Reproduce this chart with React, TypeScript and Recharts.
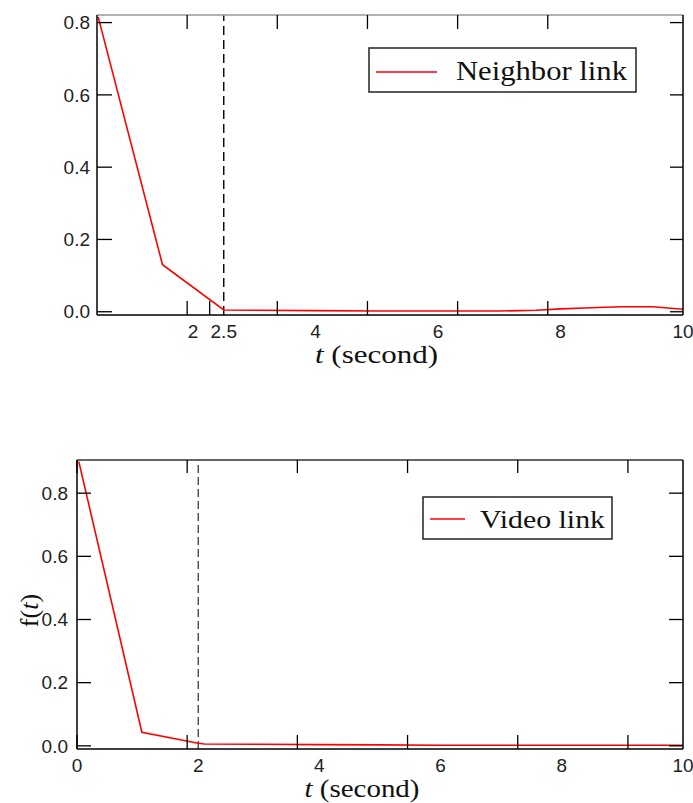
import React from 'react';
import { LineChart, Line, XAxis, YAxis, ReferenceLine, Legend } from 'recharts';

// ---------- data ----------
const neighborT = [0.45, 1.5, 2.5, 3, 4, 5, 6, 7, 7.6, 8, 8.5, 9, 9.5, 10];
const neighborF = [0.815, 0.13, 0.005, 0.004, 0.003, 0.002, 0.002, 0.002, 0.004, 0.008, 0.011, 0.014, 0.014, 0.007];
const videoT = [0.03, 1.07, 2, 2.1, 3, 4, 5, 6, 7, 8, 9, 10];
const videoF = [0.9, 0.043, 0.008, 0.006, 0.005, 0.004, 0.003, 0.002, 0.002, 0.002, 0.002, 0.002];

const topXTicks = [2, 2.5, 4, 6, 8, 10];
const bottomXTicks = [0, 2, 4, 6, 8, 10];
const yTicks = [0, 0.2, 0.4, 0.6, 0.8];

const topDashAt = 2.5;
const bottomDashAt = 2;

const topData = neighborT.map((t, i) => ({ t, f: neighborF[i] }));
const bottomData = videoT.map((t, i) => ({ t, f: videoF[i] }));

// ---------- styles ----------
const tickFont = { fontFamily: '"Liberation Sans", Arial, sans-serif', fontSize: 19, fill: '#222' };
const serif = '"Liberation Serif", "Times New Roman", serif';
const blank = () => '';

const XTitle = (dx: number, dy: number, len: number) => (props: any) => {
  const vb = props.viewBox || {};
  const cx = vb.x + vb.width / 2 + dx;
  return (
    <text
      x={cx - len / 2}
      y={vb.y + dy}
      fontFamily={serif}
      fontSize={25}
      fill="#111"
      textLength={len}
      lengthAdjust="spacingAndGlyphs"
    >
      <tspan fontStyle="italic">t</tspan>
      <tspan> (second)</tspan>
    </text>
  );
};

const YTitle = (cxOff: number, dy: number) => (props: any) => {
  const vb = props.viewBox || {};
  const x = vb.x + cxOff;
  const y = vb.y + vb.height / 2 + dy;
  return (
    <text
      x={x}
      y={y}
      transform={`rotate(-90 ${x} ${y})`}
      textAnchor="middle"
      dominantBaseline="central"
      fontFamily={serif}
      fontSize={26}
      fill="#111"
    >
      <tspan>f(</tspan>
      <tspan fontStyle="italic">t</tspan>
      <tspan>)</tspan>
    </text>
  );
};

const LegendBox = (w: number, h: number, lx1: number, lx2: number, ly: number, tx: number, ty: number, tlen: number, fs: number, label: string) => () => (
  <svg width={w + 2} height={h + 2} style={{ display: 'block' }}>
    <rect x={1} y={1} width={w} height={h} fill="#fff" stroke="#222" strokeWidth={1.5} />
    <line x1={lx1} x2={lx2} y1={ly} y2={ly} stroke="#ff0000" strokeWidth={1.6} />
    <text x={tx} y={ty} fontFamily={serif} fontSize={fs} fill="#111" textLength={tlen} lengthAdjust="spacingAndGlyphs">
      {label}
    </text>
  </svg>
);

const tickLineStyle = { stroke: '#000', strokeWidth: 1.3 };

export default function App() {
  return (
    <div style={{ position: 'absolute', left: 0, top: 0, width: 693, height: 803, background: '#fff' }}>
      {/* Top chart */}
      <div style={{ position: 'absolute', left: 0, top: 0 }}>
        <LineChart width={693} height={400} data={topData} margin={{ top: 15, right: 10, left: 0, bottom: 25 }}>
          <XAxis
            xAxisId="b"
            dataKey="t"
            type="number"
            domain={[0.43, 10]}
            allowDataOverflow
            ticks={topXTicks}
            tickLine={false}
            tickSize={0}
            tickMargin={10}
            height={60}
            axisLine={{ stroke: '#000', strokeWidth: 1.5 }}
            tick={tickFont}
            label={XTitle(-13.5, 48, 123)}
          />
          <XAxis xAxisId="bm" type="number" domain={[0.43, 10]} allowDataOverflow ticks={topXTicks} mirror tickSize={14} tickFormatter={blank} axisLine={false} tickLine={tickLineStyle} />
          <XAxis xAxisId="tm" orientation="top" type="number" domain={[0.43, 10]} allowDataOverflow ticks={[2, 4, 6, 8, 10]} mirror tickSize={14} tickFormatter={blank} axisLine={{ stroke: '#999', strokeWidth: 1.5 }} tickLine={tickLineStyle} />
          <YAxis
            yAxisId="l"
            type="number"
            domain={[-0.009, 0.821]}
            allowDataOverflow
            ticks={yTicks}
            tickFormatter={(v: number) => v.toFixed(1)}
            width={97}
            tickLine={false}
            tickSize={0}
            tickMargin={7}
            axisLine={{ stroke: '#000', strokeWidth: 1.5 }}
            tick={tickFont}
          />
          <YAxis yAxisId="lm" type="number" domain={[-0.009, 0.821]} allowDataOverflow ticks={yTicks} mirror tickSize={15} tickFormatter={blank} axisLine={false} tickLine={tickLineStyle} />
          <YAxis yAxisId="rm" orientation="right" type="number" domain={[-0.009, 0.821]} allowDataOverflow ticks={yTicks} mirror tickSize={13} tickFormatter={blank} axisLine={{ stroke: '#000', strokeWidth: 1.5 }} tickLine={tickLineStyle} />
          <ReferenceLine xAxisId="b" yAxisId="l" x={topDashAt} stroke="#000" strokeWidth={1.4} strokeDasharray="9 5" />
          <Line xAxisId="b" yAxisId="l" dataKey="f" type="linear" stroke="#ff0000" strokeWidth={1.6} dot={false} isAnimationActive={false} />
          <Legend
            layout="horizontal"
            verticalAlign="middle"
            align="center"
            content={LegendBox(267, 44, 8, 69, 25, 88, 33, 171, 27, 'Neighbor link')}
            wrapperStyle={{ position: 'absolute', left: 368, top: 47, width: 270, height: 47 }}
          />
        </LineChart>
      </div>

      {/* Bottom chart */}
      <div style={{ position: 'absolute', left: 0, top: 420 }}>
        <LineChart width={693} height={383} data={bottomData} margin={{ top: 40, right: 10, left: 0, bottom: 4 }}>
          <XAxis
            xAxisId="b"
            dataKey="t"
            type="number"
            domain={[0, 10]}
            allowDataOverflow
            ticks={bottomXTicks}
            tickLine={false}
            tickSize={0}
            tickMargin={10}
            height={50}
            axisLine={{ stroke: '#000', strokeWidth: 1.5 }}
            tick={tickFont}
            label={XTitle(-18, 48, 115)}
          />
          <XAxis xAxisId="bm" type="number" domain={[0, 10]} allowDataOverflow ticks={bottomXTicks} mirror tickSize={14} tickFormatter={blank} axisLine={false} tickLine={tickLineStyle} />
          <XAxis xAxisId="tm" orientation="top" type="number" domain={[0, 10]} allowDataOverflow ticks={bottomXTicks} mirror tickSize={13} tickFormatter={blank} axisLine={{ stroke: '#333', strokeWidth: 1.5 }} tickLine={tickLineStyle} />
          <YAxis
            yAxisId="l"
            type="number"
            domain={[-0.01, 0.905]}
            allowDataOverflow
            ticks={yTicks}
            tickFormatter={(v: number) => v.toFixed(1)}
            width={77}
            tickLine={false}
            tickSize={0}
            tickMargin={9}
            axisLine={{ stroke: '#000', strokeWidth: 1.5 }}
            tick={tickFont}
            label={YTitle(29, 6)}
          />
          <YAxis yAxisId="lm" type="number" domain={[-0.01, 0.905]} allowDataOverflow ticks={yTicks} mirror tickSize={14} tickFormatter={blank} axisLine={false} tickLine={tickLineStyle} />
          <YAxis yAxisId="rm" orientation="right" type="number" domain={[-0.01, 0.905]} allowDataOverflow ticks={yTicks} mirror tickSize={14} tickFormatter={blank} axisLine={{ stroke: '#000', strokeWidth: 1.5 }} tickLine={tickLineStyle} />
          <ReferenceLine xAxisId="b" yAxisId="l" x={bottomDashAt} stroke="#000" strokeWidth={1} strokeDasharray="8 4" />
          <Line xAxisId="b" yAxisId="l" dataKey="f" type="linear" stroke="#ff0000" strokeWidth={1.6} dot={false} isAnimationActive={false} />
          <Legend
            layout="horizontal"
            verticalAlign="middle"
            align="center"
            content={LegendBox(189, 42, 8, 43, 23, 58, 32, 125, 26, 'Video link')}
            wrapperStyle={{ position: 'absolute', left: 422, top: 76, width: 192, height: 45 }}
          />
        </LineChart>
      </div>
    </div>
  );
}
